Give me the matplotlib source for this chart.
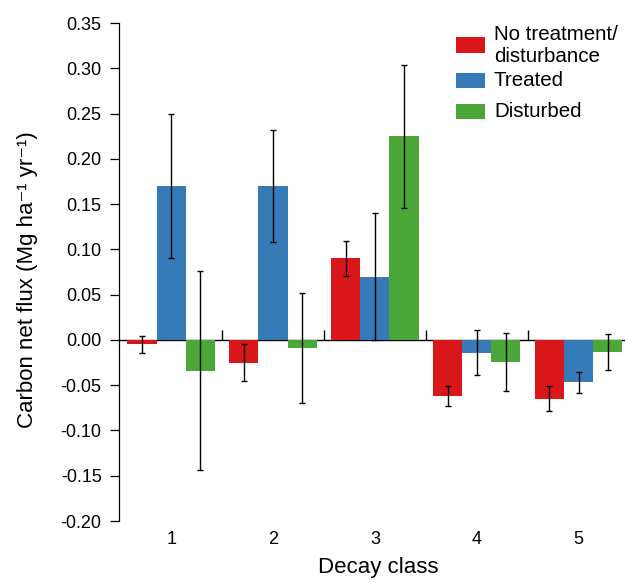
import matplotlib
matplotlib.use('Agg')
import matplotlib.pyplot as plt
from matplotlib.patches import Rectangle
import numpy as np

decay_classes = ['1', '2', '3', '4', '5']
series_names = ['No treatment/\ndisturbance', 'Treated', 'Disturbed']

no_treatment = [-0.005, -0.025, 0.090, -0.062, -0.065]
no_treatment_err = [0.0095, 0.020, 0.019, 0.0115, 0.014]
treated = [0.170, 0.170, 0.070, -0.014, -0.047]
treated_err = [0.080, 0.062, 0.070, 0.025, 0.0115]
disturbed = [-0.034, -0.009, 0.225, -0.024, -0.013]
disturbed_err = [0.110, 0.061, 0.079, 0.032, 0.020]

y_ticks = [-0.20, -0.15, -0.10, -0.05, 0.00, 0.05, 0.10, 0.15, 0.20, 0.25, 0.30, 0.35]

colors = ['#D9171A', '#367BB8', '#4BA737']

plt.rcParams['font.family'] = ['Liberation Sans', 'DejaVu Sans']

W, H = 625, 583


def px_box(x0, y0, x1, y1):
    # pixel box (from top-left) -> figure fraction
    return x0 / W, 1 - y1 / H, (x1 - x0) / W, (y1 - y0) / H


def main():
    fig = plt.figure(figsize=(W / 100, H / 100), dpi=100)
    ax = fig.add_axes([119 / W, 62 / H, (W - 119) / W, 498 / H])

    group_step = 3.5
    starts = np.arange(len(decay_classes)) * group_step
    all_vals = [no_treatment, treated, disturbed]
    all_errs = [no_treatment_err, treated_err, disturbed_err]

    ax.axhline(0, color='black', lw=1.0, zorder=1)
    gaps = starts[1:] - 0.25
    ax.vlines(gaps, 0, 0.0105, color='black', lw=1.0, zorder=1)

    for k in range(3):
        xs = starts + k + 0.5
        ax.bar(xs, all_vals[k], width=1.0, color=colors[k], edgecolor='none', zorder=2)
        ax.errorbar(xs, all_vals[k], yerr=all_errs[k], fmt='none', ecolor='black',
                    elinewidth=1.0, capsize=2.3, capthick=1.0, zorder=3)

    ax.set_xlim(-0.292, 17.096)
    ax.set_ylim(-0.20, 0.35)
    ax.set_yticks(y_ticks)
    ax.set_yticklabels(['%.2f' % v for v in y_ticks], fontsize=13)
    ax.tick_params(axis='y', length=6.5, width=0.9, pad=6, direction='out')
    ax.set_xticks(starts + 1.5)
    ax.set_xticklabels(decay_classes, fontsize=13)
    ax.tick_params(axis='x', length=0, pad=7)

    for s in ['top', 'right', 'bottom']:
        ax.spines[s].set_visible(False)
    ax.spines['left'].set_linewidth(0.9)

    ax.set_ylabel('Carbon net flux (Mg ha\u207b\u00b9 yr\u207b\u00b9)', fontsize=16)
    ax.yaxis.set_label_coords(-0.160, 0.484)
    ax.text(0.512, -0.094, 'Decay class', transform=ax.transAxes, fontsize=16,
            ha='center', va='center')

    # legend, placed by hand as in the original
    legend_rows = [(37.3, 52.7), (73.3, 87.7), (104.0, 119.0)]
    for k, (y0, y1) in enumerate(legend_rows):
        l, b, w, h = px_box(456, y0, 485, y1)
        fig.patches.append(Rectangle((l, b), w, h, transform=fig.transFigure,
                                     facecolor=colors[k], edgecolor='none'))
        yc = 1 - (y0 + y1) / 2 / H
        fig.text(494 / W, yc, series_names[k], fontsize=14.8, ha='left', va='center',
                 linespacing=1.2)

    fig.savefig('out.png', dpi=100)


if __name__ == '__main__':
    main()
